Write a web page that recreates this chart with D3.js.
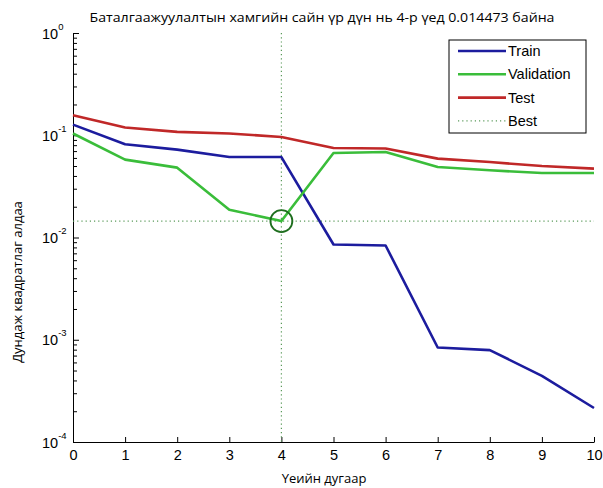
<!DOCTYPE html>
<html><head><meta charset="utf-8">
<script src="https://cdn.jsdelivr.net/npm/d3@7"></script>
<style>body{margin:0;background:#fff}</style>
</head><body>
<svg id="c" width="603" height="488"></svg>
<script>
const epochs = [0,1,2,3,4,5,6,7,8,9,10];
const train = [0.127,0.0816,0.0724,0.0612,0.0612,0.00854,0.00835,0.00084,0.000792,0.000444,0.000215];
const validation = [0.104,0.0578,0.0482,0.0187,0.014473,0.067,0.0686,0.0489,0.0454,0.0427,0.0427];
const test = [0.157,0.119,0.108,0.104,0.0962,0.075,0.0742,0.0591,0.0547,0.050,0.0472];
const bestEpoch = 4;
const bestValue = 0.014473;
const xTicks = [0,1,2,3,4,5,6,7,8,9,10];
const yMajor = [1e-4,1e-3,1e-2,1e-1,1];
const legendNames = ["Train","Validation","Test","Best"];
const titleText = "Баталгаажуулалтын хамгийн сайн үр дүн нь 4-р үед 0.014473 байна";
const xLabel = "Үеийн дугаар";
const yLabel = "Дундаж квадратлаг алдаа";

const colTrain = "#1c1c9e", colVal = "#3abd3a", colTest = "#c02828", colBest = "#5a9a5a";

const svg = d3.select("#c");
svg.append("rect").attr("width",603).attr("height",488).attr("fill","#fff");
const m = {l:73, r:594, t:33, b:442};
const x = d3.scaleLinear().domain([0,10]).range([m.l,m.r]);
const y = d3.scaleLog().domain([1e-4,1]).range([m.b,m.t]);

// minor ticks
const yMinor = [];
yMajor.slice(0,-1).forEach(p => { for (let k=2;k<=9;k++) yMinor.push(p*k); });

const fontTick = "'Liberation Sans', Arial, sans-serif";
const fontText = "'Open Sans', 'DejaVu Sans', sans-serif";

// x axis
const gx = svg.append("g").attr("transform",`translate(0,${m.b})`)
  .call(d3.axisBottom(x).tickValues(xTicks).tickFormat(d3.format("d")).tickSizeInner(-5).tickSizeOuter(0).tickPadding(8));
gx.selectAll("text").attr("font-family",fontTick).attr("font-size","14.5px").attr("fill","#000");
gx.select(".domain").attr("stroke","#000");

// y axis minor
const gym = svg.append("g").attr("transform",`translate(${m.l},0)`)
  .call(d3.axisLeft(y).tickValues(yMinor).tickFormat("").tickSizeInner(-4).tickSizeOuter(0));
gym.select(".domain").remove();
// y axis major
const gy = svg.append("g").attr("transform",`translate(${m.l},0)`)
  .call(d3.axisLeft(y).tickValues(yMajor).tickSizeInner(-6).tickSizeOuter(0));
gy.select(".domain").attr("stroke","#000");
gy.selectAll(".tick text").each(function(d){
  const t = d3.select(this);
  t.text(null).attr("text-anchor","start").attr("x",-31).attr("dy",null)
   .attr("dominant-baseline","central").attr("font-family",fontTick).attr("fill","#000");
  t.append("tspan").attr("font-size","14.5px").text("10");
  t.append("tspan").attr("font-size","9.5px").attr("dy","-8").text(Math.round(Math.log10(d)));
});

// best lines
svg.append("line").attr("x1",x(bestEpoch)).attr("x2",x(bestEpoch)).attr("y1",m.t).attr("y2",m.b)
  .attr("stroke",colBest).attr("stroke-width",1.2).attr("stroke-dasharray","1.2,3");
svg.append("line").attr("x1",m.l).attr("x2",m.r).attr("y1",y(bestValue)).attr("y2",y(bestValue))
  .attr("stroke",colBest).attr("stroke-width",1.2).attr("stroke-dasharray","1.2,3");

// series
const series = [[train,colTrain],[validation,colVal],[test,colTest]];
series.forEach(([vals,col]) => {
  const line = d3.line().x((d,i)=>x(epochs[i])).y(d=>y(d));
  svg.append("path").attr("d",line(vals)).attr("fill","none").attr("stroke",col)
    .attr("stroke-width",2.6).attr("stroke-linejoin","round");
});

// best circle
svg.append("circle").attr("cx",x(bestEpoch)).attr("cy",y(bestValue)).attr("r",11)
  .attr("fill","none").attr("stroke","#1e6e1e").attr("stroke-width",1.8);

// legend
const lg = svg.append("g");
lg.append("rect").attr("x",449).attr("y",40).attr("width",137).attr("height",93)
  .attr("fill","#fff").attr("stroke","#000").attr("stroke-width",1);
const lcols = [colTrain,colVal,colTest,colBest];
legendNames.forEach((n,i) => {
  const yy = 51 + i*23.3;
  const ln = lg.append("line").attr("x1",458).attr("x2",506).attr("y1",yy).attr("y2",yy).attr("stroke",lcols[i]);
  if (i===3) ln.attr("stroke-width",1.2).attr("stroke-dasharray","1.2,3");
  else ln.attr("stroke-width",2.6);
  lg.append("text").attr("x",508).attr("y",yy).attr("dominant-baseline","central")
    .attr("font-family",fontTick).attr("font-size","14.5px").text(n);
});

// texts
svg.append("text").attr("x",322).attr("y",17).attr("text-anchor","middle").attr("dominant-baseline","central")
  .attr("font-family",fontText).attr("font-size","12.5px").attr("textLength",465).attr("lengthAdjust","spacingAndGlyphs")
  .text(titleText);
svg.append("text").attr("x",324).attr("y",478).attr("text-anchor","middle").attr("dominant-baseline","central")
  .attr("font-family",fontText).attr("font-size","13px").text(xLabel);
svg.append("text").attr("transform","translate(17,282) rotate(-90)").attr("text-anchor","middle").attr("dominant-baseline","central")
  .attr("font-family",fontText).attr("font-size","13px").text(yLabel);
</script>
</body></html>
